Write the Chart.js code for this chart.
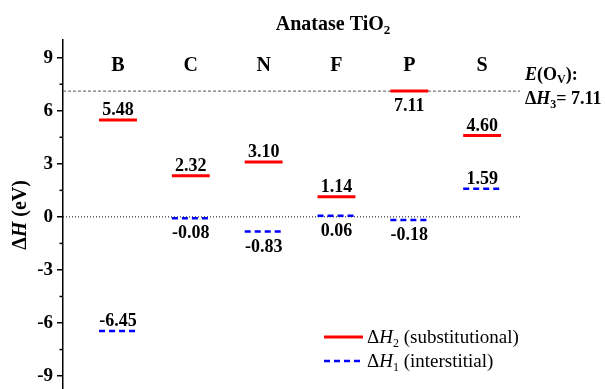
<!DOCTYPE html>
<html>
<head>
<meta charset="utf-8">
<script src="https://cdn.jsdelivr.net/npm/chart.js@4.4.1/dist/chart.umd.min.js"></script>
<style>
  html, body { margin: 0; padding: 0; background: #fff; }
  canvas { display: block; }
</style>
</head>
<body>
<canvas id="chart" width="605" height="389"></canvas>
<script>
// Dopant formation energies in anatase TiO2 (eV)
const categories = ['B', 'C', 'N', 'F', 'P', 'S'];
const substitutional = [5.48, 2.32, 3.10, 1.14, 7.11, 4.60];   // ΔH2
const interstitial = [-6.45, -0.08, -0.83, 0.06, -0.18, 1.59];  // ΔH1
const vacancyEnergy = 7.11;                                      // ΔH3 = E(Ov)
const yTicks = [-9, -6, -3, 0, 3, 6, 9];
const yMinorTicks = [-7.5, -4.5, -1.5, 1.5, 4.5, 7.5];

const SERIF = '"Liberation Serif", "Times New Roman", Times, serif';
const HALF = 0.26;            // half width of a level bar, in category units
const X_MIN = 0.245, X_MAX = 6.52;

// which value labels sit under their level line
const labelBelow = {
  sub: new Set(['P']),
  int: new Set(['C', 'N', 'F', 'P'])
};

function levelSegments(values) {
  const pts = [];
  values.forEach((v, i) => {
    const c = i + 1;
    pts.push({ x: c - HALF, y: v }, { x: c + HALF, y: v }, { x: c + 0.5, y: null });
  });
  return pts;
}

function font(size, weight, style) {
  return (style || 'normal') + ' ' + (weight || 'normal') + ' ' + size + 'px ' + SERIF;
}

// draws a sequence of differently styled text pieces on one baseline
function drawRich(ctx, runs, x, y, align) {
  ctx.save();
  ctx.textBaseline = 'alphabetic';
  ctx.textAlign = 'left';
  let total = 0;
  runs.forEach(r => { ctx.font = font(r.size, r.weight, r.style); r.w = ctx.measureText(r.t).width; total += r.w; });
  let cx = x;
  if (align === 'center') cx = x - total / 2;
  else if (align === 'right') cx = x - total;
  runs.forEach(r => {
    ctx.font = font(r.size, r.weight, r.style);
    ctx.fillStyle = '#000';
    ctx.fillText(r.t, cx, y + (r.dy || 0));
    cx += r.w;
  });
  ctx.restore();
}

const annotations = {
  id: 'annotations',
  afterDraw(chart) {
    const ctx = chart.ctx;
    const xs = chart.scales.x, ys = chart.scales.y;
    const area = chart.chartArea;

    // minor ticks on the energy axis
    ctx.save();
    ctx.strokeStyle = '#000';
    ctx.lineWidth = 1.5;
    yMinorTicks.forEach(v => {
      const py = ys.getPixelForValue(v);
      ctx.beginPath();
      ctx.moveTo(area.left - 3.5, py);
      ctx.lineTo(area.left, py);
      ctx.stroke();
    });
    ctx.restore();

    // title
    drawRich(ctx, [
      { t: 'Anatase TiO', size: 20, weight: 'bold' },
      { t: '2', size: 13, weight: 'bold', dy: 4 }
    ], 333, 30, 'center');

    // axis title, rotated
    ctx.save();
    ctx.translate(26, 215);
    ctx.rotate(-Math.PI / 2);
    drawRich(ctx, [
      { t: 'Δ', size: 20, weight: 'bold' },
      { t: 'H', size: 20, weight: 'bold', style: 'italic' },
      { t: ' (eV)', size: 20, weight: 'bold' }
    ], 0, 0, 'center');
    ctx.restore();

    // dopant names and value labels
    categories.forEach((name, i) => {
      const px = xs.getPixelForValue(i + 1);
      drawRich(ctx, [{ t: name, size: 20, weight: 'bold' }], px, 71, 'center');

      const s = substitutional[i];
      const sy = ys.getPixelForValue(s);
      drawRich(ctx, [{ t: s.toFixed(2), size: 18, weight: 'bold' }], px,
        labelBelow.sub.has(name) ? sy + 20 : sy - 5, 'center');

      const n = interstitial[i];
      const ny = ys.getPixelForValue(n);
      drawRich(ctx, [{ t: n.toFixed(2), size: 18, weight: 'bold' }], px,
        labelBelow.int.has(name) ? ny + 20 : ny - 5, 'center');
    });

    // vacancy reference annotation
    const vy = ys.getPixelForValue(vacancyEnergy);
    drawRich(ctx, [
      { t: 'E', size: 18, weight: 'bold', style: 'italic' },
      { t: '(O', size: 18, weight: 'bold' },
      { t: 'V', size: 12, weight: 'bold', dy: 3 },
      { t: '):', size: 18, weight: 'bold' }
    ], area.right + 5, vy - 11, 'left');
    drawRich(ctx, [
      { t: 'Δ', size: 18, weight: 'bold' },
      { t: 'H', size: 18, weight: 'bold', style: 'italic' },
      { t: '3', size: 12, weight: 'bold', dy: 4 },
      { t: '= ' + vacancyEnergy.toFixed(2), size: 18, weight: 'bold' }
    ], area.right + 5, vy + 13, 'left');

    // legend
    const legend = [
      { color: '#ff0000', dash: [], width: 3, sub: '2', text: ' (substitutional)', y: 337 },
      { color: '#0000ff', dash: [6, 4], width: 2.5, sub: '1', text: ' (interstitial)', y: 361 }
    ];
    legend.forEach(item => {
      ctx.save();
      ctx.strokeStyle = item.color;
      ctx.lineWidth = item.width;
      ctx.setLineDash(item.dash);
      ctx.beginPath();
      ctx.moveTo(324, item.y);
      ctx.lineTo(363, item.y);
      ctx.stroke();
      ctx.restore();
      drawRich(ctx, [
        { t: 'Δ', size: 19 },
        { t: 'H', size: 19, style: 'italic' },
        { t: item.sub, size: 12, dy: 4 },
        { t: item.text, size: 19 }
      ], 367, item.y + 6, 'left');
    });
  }
};

new Chart(document.getElementById('chart'), {
  type: 'line',
  data: {
    datasets: [
      {
        label: 'ΔH2 (substitutional)',
        data: levelSegments(substitutional),
        borderColor: '#ff0000',
        borderWidth: 3,
        pointRadius: 0,
        spanGaps: false
      },
      {
        label: 'ΔH1 (interstitial)',
        data: levelSegments(interstitial),
        borderColor: '#0000ff',
        borderWidth: 2.5,
        borderDash: [6, 4],
        pointRadius: 0,
        spanGaps: false
      },
      {
        label: 'E(Ov)',
        data: [{ x: X_MIN, y: vacancyEnergy }, { x: X_MAX, y: vacancyEnergy }],
        borderColor: '#555555',
        borderWidth: 1,
        borderDash: [3, 2],
        pointRadius: 0
      },
      {
        label: 'zero',
        data: [{ x: X_MIN, y: 0 }, { x: X_MAX, y: 0 }],
        borderColor: '#000000',
        borderWidth: 1,
        borderDash: [1, 2],
        pointRadius: 0
      }
    ]
  },
  options: {
    responsive: false,
    animation: false,
    events: [],
    layout: { padding: { left: 0, top: 40, right: 85, bottom: 0 } },
    plugins: { legend: { display: false }, tooltip: { enabled: false }, title: { display: false } },
    scales: {
      x: { type: 'linear', display: false, min: X_MIN, max: X_MAX },
      y: {
        type: 'linear',
        min: -9.73,
        max: 10,
        afterBuildTicks: s => { s.ticks = yTicks.map(v => ({ value: v })); },
        afterFit: s => { s.width = 63; s.paddingTop = 0; s.paddingBottom = 0; },
        ticks: {
          font: { family: SERIF, size: 19, weight: 'bold' },
          color: '#000',
          padding: 4
        },
        grid: { display: true, drawOnChartArea: false, drawTicks: true, tickLength: 6, color: '#000', lineWidth: 1.5 },
        border: { display: true, color: '#000', width: 1.5 }
      }
    }
  },
  plugins: [annotations]
});
</script>
</body>
</html>
